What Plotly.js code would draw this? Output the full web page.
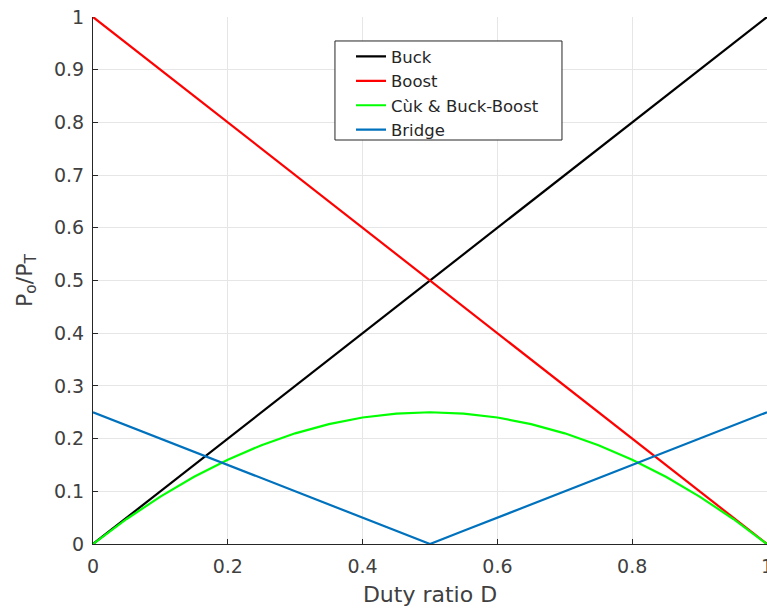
<!DOCTYPE html>
<html>
<head>
<meta charset="utf-8">
<script src="https://cdn.plot.ly/plotly-3.0.1.min.js"></script>
<style>html,body{margin:0;padding:0;background:#fff;}#chart{width:767px;height:609px;}</style>
</head>
<body>
<div id="chart"></div>
<script>
const dutyRatio = [0, 0.05, 0.1, 0.15, 0.2, 0.25, 0.3, 0.35, 0.4, 0.45, 0.5, 0.55, 0.6, 0.65, 0.7, 0.75, 0.8, 0.85, 0.9, 0.95, 1];
const buck = [0, 0.05, 0.1, 0.15, 0.2, 0.25, 0.3, 0.35, 0.4, 0.45, 0.5, 0.55, 0.6, 0.65, 0.7, 0.75, 0.8, 0.85, 0.9, 0.95, 1];
const boost = [1, 0.95, 0.9, 0.85, 0.8, 0.75, 0.7, 0.65, 0.6, 0.55, 0.5, 0.45, 0.4, 0.35, 0.3, 0.25, 0.2, 0.15, 0.1, 0.05, 0];
const cukBuckBoost = [0, 0.0475, 0.09, 0.1275, 0.16, 0.1875, 0.21, 0.2275, 0.24, 0.2475, 0.25, 0.2475, 0.24, 0.2275, 0.21, 0.1875, 0.16, 0.1275, 0.09, 0.0475, 0];
const bridge = [0.25, 0.225, 0.2, 0.175, 0.15, 0.125, 0.1, 0.075, 0.05, 0.025, 0, 0.025, 0.05, 0.075, 0.1, 0.125, 0.15, 0.175, 0.2, 0.225, 0.25];
const seriesNames = ["Buck", "Boost", "Cùk &amp; Buck-Boost", "Bridge"];
const seriesColors = ["#000000", "#ff0000", "#00ff00", "#0072bd"];
const seriesData = [buck, boost, cukBuckBoost, bridge];
const xTicks = [0, 0.2, 0.4, 0.6, 0.8, 1];
const yTicks = [0, 0.1, 0.2, 0.3, 0.4, 0.5, 0.6, 0.7, 0.8, 0.9, 1];

const traces = seriesData.map((ys, i) => ({
  x: dutyRatio, y: ys, type: 'scatter', mode: 'lines', name: seriesNames[i],
  line: {color: seriesColors[i], width: 2.2}
}));

const axisCommon = {
  showgrid: true, gridcolor: '#e6e6e6', gridwidth: 1,
  showline: true, linecolor: '#262626', linewidth: 1,
  ticks: 'inside', ticklen: 5, tickcolor: '#262626',
  tickfont: {family: 'DejaVu Sans', size: 19, color: '#404040'},
  ticklabeloverflow: 'allow',
  zeroline: false, mirror: false
};

const layout = {
  width: 767, height: 609,
  margin: {l: 93, r: 0, t: 17, b: 65},
  paper_bgcolor: '#fff', plot_bgcolor: '#fff',
  font: {family: 'DejaVu Sans', color: '#262626'},
  showlegend: true,
  legend: {
    x: 0.3828, y: 0.958, xanchor: 'left', yanchor: 'top',
    bgcolor: 'rgba(0,0,0,0)', borderwidth: 0,
    font: {family: 'DejaVu Sans', size: 16.5, color: '#262626'},
    tracegroupgap: 0
  },
  shapes: [{
    type: 'rect', xref: 'paper', yref: 'paper', layer: 'above',
    x0: 0.359, x1: 0.6958, y0: 0.7666, y1: 0.9545,
    fillcolor: '#ffffff', line: {color: '#262626', width: 1}
  }],
  xaxis: Object.assign({}, axisCommon, {
    range: [0, 1], tickvals: xTicks, ticktext: xTicks.map(String),
    ticklabelstandoff: 5,
    title: {text: 'Duty ratio D', font: {family: 'DejaVu Sans', size: 22, color: '#404040'}, standoff: 10}
  }),
  yaxis: Object.assign({}, axisCommon, {
    range: [0, 1], tickvals: yTicks, ticktext: yTicks.map(String),
    ticklabelstandoff: 4,
    title: {text: 'P<sub>o</sub>/P<sub>T</sub>', font: {family: 'DejaVu Sans', size: 22, color: '#404040'}, standoff: 15}
  })
};

Plotly.newPlot('chart', traces, layout, {displayModeBar: false, staticPlot: true});
</script>
</body>
</html>
